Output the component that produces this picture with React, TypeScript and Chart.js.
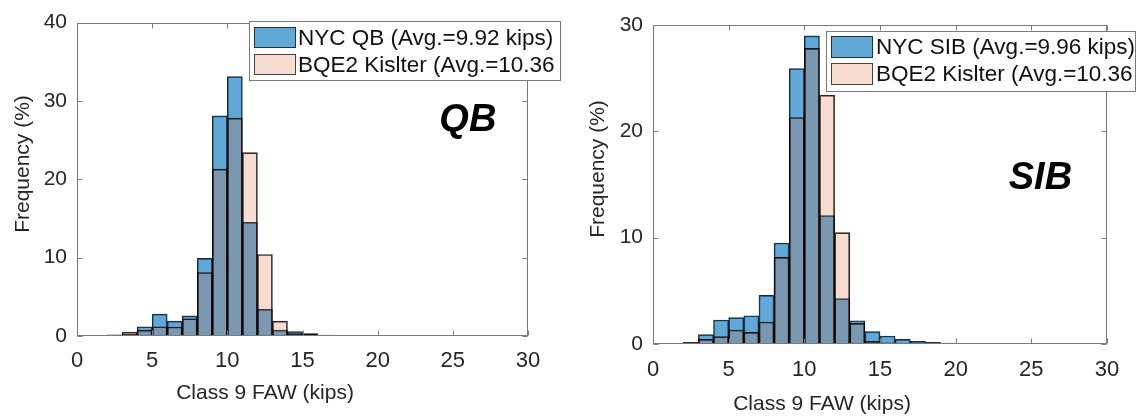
import React, { useEffect, useRef } from "react";
import { Chart, registerables } from "chart.js";

Chart.register(...registerables);

// ---------- data ----------
const xTickValues = [0, 5, 10, 15, 20, 25, 30];

// bin start values (bin width = 1 kip)
const qbBinStarts = [2, 3, 4, 5, 6, 7, 8, 9, 10, 11, 12, 13, 14, 15, 16];
const qbNyc = [0.15, 0.2, 1.18, 2.8, 1.9, 2.57, 9.9, 28.1, 33.1, 14.5, 3.4, 0.76, 0.55, 0.3, 0.12];
const qbBqe = [0.1, 0.5, 0.75, 1.18, 1.15, 2.2, 8.1, 21.3, 27.8, 23.4, 10.4, 1.9, 0.3, 0.25, 0.1];

const sibBinStarts = [2, 3, 4, 5, 6, 7, 8, 9, 10, 11, 12, 13, 14, 15, 16, 17, 18, 19, 20];
const sibNyc = [0.05, 0.88, 2.26, 2.48, 2.66, 4.58, 9.5, 25.9, 28.97, 12.07, 4.26, 2.19, 1.16, 0.75, 0.44, 0.25, 0.16, 0.08, 0.05];
const sibBqe = [0.16, 0.44, 0.69, 1.32, 1.1, 2.07, 8.15, 21.3, 27.8, 23.4, 10.47, 1.94, 0.25, 0.1, 0.03, 0, 0, 0, 0];

const qbLabels = ["NYC QB (Avg.=9.92 kips)", "BQE2 Kislter (Avg.=10.36"];
const sibLabels = ["NYC SIB (Avg.=9.96 kips)", "BQE2 Kislter (Avg.=10.36"];

const xTitle = "Class 9 FAW (kips)";
const yTitle = "Frequency (%)";

// ---------- styles ----------
const FONT = '"Liberation Sans", Arial, Helvetica, sans-serif';
const BLUE = "rgba(0,114,189,0.62)";
const PINK = "rgba(217,83,25,0.2)";
const EDGE = "rgba(0,0,0,0.85)";
const AXIS = "#7a7a7a";
const TEXT = "#262626";

type Panel = {
  starts: number[];
  nyc: number[];
  bqe: number[];
  labels: string[];
  yMax: number;
  tag: string;
  tagX: number;
  tagY: number;
  layout: {
    left: number;
    yAxisW: number;
    xAxisH: number;
    padTop: number;
    padRight: number;
    xTickPad: number;
    legend: { x: number; y: number; w: number; h: number; sw: number; rowH: number; rows: number[]; textX: number };
    yTitle: [number, number];
    xTitle: [number, number];
  };
};

const panels: Panel[] = [
  {
    starts: qbBinStarts,
    nyc: qbNyc,
    bqe: qbBqe,
    labels: qbLabels,
    yMax: 40,
    tag: "QB",
    tagX: 26,
    tagY: 27.5,
    layout: {
      left: 0,
      yAxisW: 77,
      xAxisH: 81,
      padTop: 19,
      padRight: 42,
      xTickPad: 12,
      legend: { x: 249, y: 21, w: 311, h: 59, sw: 42, rowH: 21, rows: [27, 54], textX: 298 },
      yTitle: [23, 164],
      xTitle: [265, 393],
    },
  },
  {
    starts: sibBinStarts,
    nyc: sibNyc,
    bqe: sibBqe,
    labels: sibLabels,
    yMax: 30,
    tag: "SIB",
    tagX: 25.6,
    tagY: 15.6,
    layout: {
      left: 570,
      yAxisW: 83,
      xAxisH: 73,
      padTop: 25,
      padRight: 33,
      xTickPad: 13,
      legend: { x: 256, y: 31, w: 309, h: 60, sw: 42, rowH: 22, rows: [36, 63], textX: 306 },
      yTitle: [28, 169],
      xTitle: [252, 404],
    },
  },
];

const decorPlugin = {
  id: "decor",
  afterDraw(chart: any, _args: any, opts: any) {
    const p: Panel = opts.panel;
    const { ctx, chartArea: a } = chart;
    const xs = chart.scales.x;
    const ys = chart.scales.y;
    ctx.save();
    // frame
    const L = Math.round(a.left) + 0.5;
    const R = Math.round(a.right) - 0.5;
    const T = Math.round(a.top) + 0.5;
    const B = Math.round(a.bottom) - 0.5;
    ctx.strokeStyle = AXIS;
    ctx.lineWidth = 1;
    ctx.strokeRect(L, T, R - L, B - T);
    // inward ticks
    const tl = 5;
    ctx.beginPath();
    xs.ticks.forEach((t: any) => {
      const px = Math.round(xs.getPixelForValue(t.value)) + 0.5;
      ctx.moveTo(px, B);
      ctx.lineTo(px, B - tl);
      ctx.moveTo(px, T);
      ctx.lineTo(px, T + tl);
    });
    ys.ticks.forEach((t: any) => {
      const py = Math.round(ys.getPixelForValue(t.value)) + 0.5;
      ctx.moveTo(L, py);
      ctx.lineTo(L + tl, py);
      ctx.moveTo(R, py);
      ctx.lineTo(R - tl, py);
    });
    ctx.stroke();

    // tag text
    ctx.fillStyle = "#000";
    ctx.font = `italic bold 38px ${FONT}`;
    ctx.textAlign = "center";
    ctx.textBaseline = "middle";
    ctx.fillText(p.tag, xs.getPixelForValue(p.tagX), ys.getPixelForValue(p.tagY));

    // axis titles
    ctx.fillStyle = TEXT;
    ctx.font = `21px ${FONT}`;
    ctx.fillText(xTitle, p.layout.xTitle[0], p.layout.xTitle[1]);
    ctx.save();
    ctx.translate(p.layout.yTitle[0], p.layout.yTitle[1]);
    ctx.rotate(-Math.PI / 2);
    ctx.fillText(yTitle, 0, 0);
    ctx.restore();

    // legend
    const lg = p.layout.legend;
    ctx.fillStyle = "#fff";
    ctx.fillRect(lg.x, lg.y, lg.w, lg.h);
    ctx.strokeStyle = AXIS;
    ctx.strokeRect(lg.x + 0.5, lg.y + 0.5, lg.w, lg.h);
    const ds = chart.data.datasets;
    ds.forEach((d: any, i: number) => {
      const ry = lg.rows[i];
      ctx.fillStyle = "#fff";
      ctx.fillRect(lg.x + 5, ry, lg.sw, lg.rowH);
      ctx.fillStyle = d.backgroundColor;
      ctx.fillRect(lg.x + 5, ry, lg.sw, lg.rowH);
      ctx.strokeStyle = "rgba(0,0,0,0.7)";
      ctx.strokeRect(lg.x + 5.5, ry + 0.5, lg.sw - 1, lg.rowH - 1);
      ctx.fillStyle = "#111";
      ctx.font = `22.5px ${FONT}`;
      ctx.textAlign = "left";
      ctx.textBaseline = "middle";
      ctx.fillText(d.label, lg.textX, ry + lg.rowH / 2 + 1);
    });
    ctx.restore();
  },
};

function HistPanel({ panel }: { panel: Panel }) {
  const ref = useRef<HTMLCanvasElement | null>(null);
  useEffect(() => {
    if (!ref.current) return;
    const lay = panel.layout;
    const toPts = (vals: number[]) => vals.map((v, i) => ({ x: panel.starts[i] + 0.5, y: v }));
    const chart = new Chart(ref.current, {
      type: "bar",
      data: {
        datasets: [
          {
            label: panel.labels[0],
            data: toPts(panel.nyc),
            backgroundColor: BLUE,
            borderColor: EDGE,
            borderWidth: 1,
            barPercentage: 1,
            categoryPercentage: 1,
            grouped: false,
            order: 2,
          } as any,
          {
            label: panel.labels[1],
            data: toPts(panel.bqe),
            backgroundColor: PINK,
            borderColor: EDGE,
            borderWidth: 1,
            barPercentage: 1,
            categoryPercentage: 1,
            grouped: false,
            order: 1,
          } as any,
        ],
      },
      options: {
        responsive: false,
        animation: false,
        devicePixelRatio: 1,
        layout: { padding: { left: 0, right: lay.padRight, top: lay.padTop, bottom: 0 } },
        plugins: {
          legend: { display: false },
          tooltip: { enabled: false },
          decor: { panel },
        } as any,
        scales: {
          x: {
            type: "linear",
            min: 0,
            max: 30,
            offset: false,
            grid: { display: false, drawTicks: false },
            border: { display: false },
            afterBuildTicks: (s: any) => {
              s.ticks = xTickValues.map((v) => ({ value: v }));
            },
            afterFit: (s: any) => {
              s.height = lay.xAxisH;
            },
            ticks: {
              padding: lay.xTickPad,
              color: TEXT,
              font: { family: FONT, size: 22 },
              maxRotation: 0,
            },
          },
          y: {
            min: 0,
            max: panel.yMax,
            grid: { display: false, drawTicks: false },
            border: { display: false },
            afterFit: (s: any) => {
              s.width = lay.yAxisW;
            },
            ticks: {
              stepSize: 10,
              padding: 10,
              color: TEXT,
              font: { family: FONT, size: 21 },
            },
          },
        },
      },
      plugins: [decorPlugin],
    } as any);
    return () => chart.destroy();
  }, [panel]);
  return (
    <div style={{ position: "absolute", left: panel.layout.left, top: 0, width: 570, height: 417 }}>
      <canvas ref={ref} width={570} height={417} style={{ width: 570, height: 417, display: "block" }} />
    </div>
  );
}

export default function App() {
  return (
    <div style={{ position: "absolute", left: 0, top: 0, width: 1140, height: 417, background: "#fff" }}>
      {panels.map((p, i) => (
        <HistPanel key={i} panel={p} />
      ))}
    </div>
  );
}
